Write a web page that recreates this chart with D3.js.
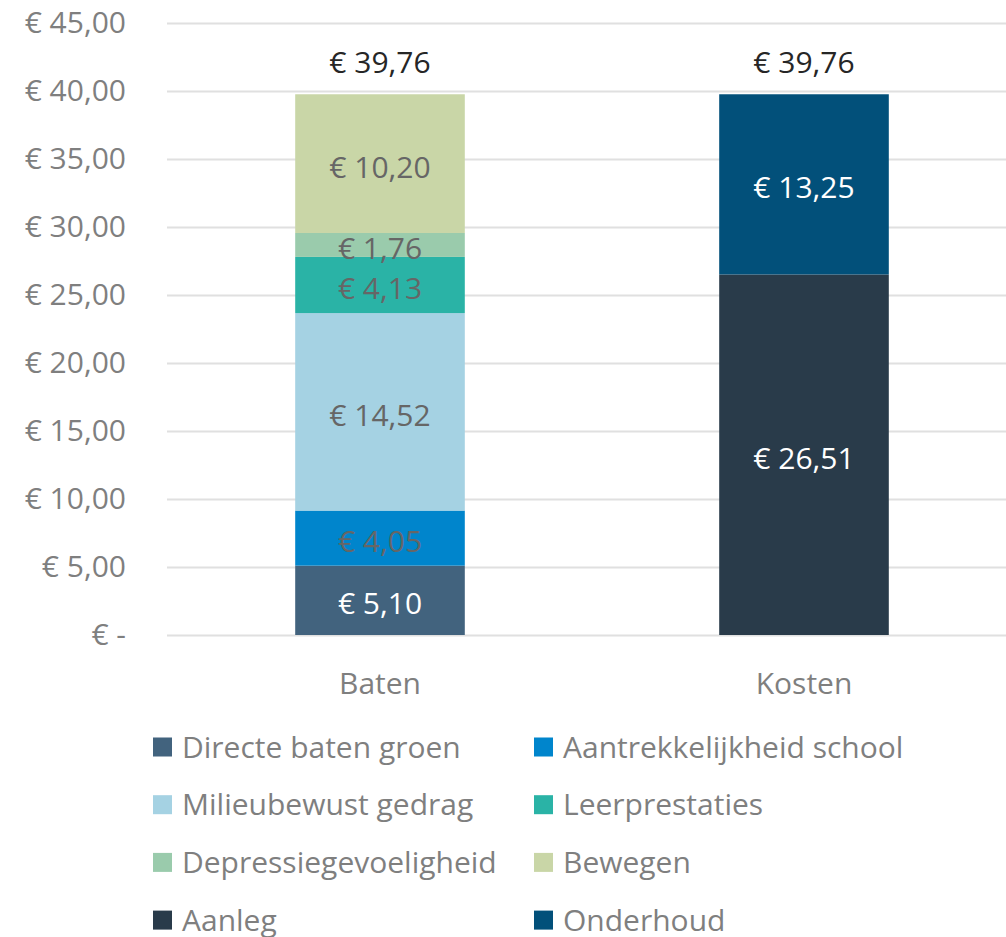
<!DOCTYPE html>
<html>
<head>
<meta charset="utf-8">
<script src="https://cdn.jsdelivr.net/npm/d3@7"></script>
<style>
  body { margin: 0; background: #fff; }
  svg { display: block; font-family: "Open Sans", "Noto Sans", sans-serif; }
</style>
</head>
<body>
<div id="chart"></div>
<script>
// categories and series
var categories = ["Baten", "Kosten"];
var seriesNames = ["Directe baten groen", "Aantrekkelijkheid school", "Milieubewust gedrag", "Leerprestaties",
                   "Depressiegevoeligheid", "Bewegen", "Aanleg", "Onderhoud"];
var seriesColors = ["#42637e", "#0085cc", "#a5d2e3", "#2ab3a6", "#9acbac", "#c9d6a7", "#293b4a", "#02507a"];
var labelColors = ["#ffffff", "#666666", "#666666", "#666666", "#666666", "#666666", "#ffffff", "#ffffff"];
// value per category, same order as categories
var baten = [5.10, 4.05, 14.52, 4.13, 1.76, 10.20, 0, 0];
var kosten = [0, 0, 0, 0, 0, 0, 26.51, 13.25];
var yTicks = [0, 5, 10, 15, 20, 25, 30, 35, 40, 45];

var width = 1006, height = 937;
var margin = {top: 23, left: 168, plotRight: 1016, bottom: 635};
var fontSize = "30px";

var nl = d3.formatLocale({decimal: ",", thousands: ".", grouping: [3], currency: ["€ ", ""]});
var fmt = function(v) { return v === 0 ? "€ -" : nl.format("$,.2f")(v); };

// build rows for d3.stack
var rows = categories.map(function(c, i) {
	var src = i === 0 ? baten : kosten;
	var r = {cat: c};
	seriesNames.forEach(function(s, j) { r[s] = src[j]; });
	return r;
});
var stacked = d3.stack().keys(seriesNames)(rows);

var svg = d3.select("#chart").append("svg")
	.attr("width", width)
	.attr("height", height);

var x = d3.scaleBand()
	.domain(categories)
	.range([margin.left, margin.plotRight])
	.paddingInner(0.6)
	.paddingOuter(0.3);

var y = d3.scaleLinear()
	.domain([0, 45])
	.range([margin.bottom, margin.top]);

// gridlines
svg.append("g")
	.selectAll("line")
	.data(yTicks)
	.enter().append("line")
	.attr("x1", margin.left - 1)
	.attr("x2", width)
	.attr("y1", function(d) { return Math.round(y(d)) + 0.5; })
	.attr("y2", function(d) { return Math.round(y(d)) + 0.5; })
	.attr("stroke", "#e0e0e0")
	.attr("stroke-width", 2);

// y axis labels
var yAxis = svg.append("g")
	.attr("transform", "translate(126,0)")
	.call(d3.axisLeft(y).tickValues(yTicks).tickFormat(fmt).tickSize(0).tickPadding(0));
yAxis.select(".domain").remove();
yAxis.selectAll("text")
	.attr("fill", "#7f7f7f")
	.style("font-size", fontSize)
	.style("font-family", "\"Open Sans\", sans-serif");

// bars
var layer = svg.selectAll(".layer")
	.data(stacked)
	.enter().append("g")
	.attr("class", "layer")
	.attr("fill", function(d, i) { return seriesColors[i]; });

layer.selectAll("rect")
	.data(function(d) { return d.filter(function(p) { return p[1] - p[0] > 0; }); })
	.enter().append("rect")
	.attr("x", function(d) { return x(d.data.cat); })
	.attr("width", x.bandwidth())
	.attr("y", function(d) { return y(d[1]); })
	.attr("height", function(d) { return y(d[0]) - y(d[1]); });

// segment labels
layer.each(function(s, i) {
	d3.select(this).selectAll("text")
		.data(s.filter(function(p) { return p[1] - p[0] > 0; }))
		.enter().append("text")
		.attr("x", function(d) { return x(d.data.cat) + x.bandwidth() / 2; })
		.attr("y", function(d) { return y((d[0] + d[1]) / 2); })
		.attr("dy", "0.47em")
		.attr("text-anchor", "middle")
		.attr("fill", labelColors[i])
		.style("font-size", fontSize)
		.text(function(d) { return fmt(d[1] - d[0]); });
});

// totals
svg.append("g")
	.selectAll("text")
	.data(rows)
	.enter().append("text")
	.attr("x", function(d) { return x(d.cat) + x.bandwidth() / 2; })
	.attr("y", function(d) { return y(d3.sum(seriesNames, function(s) { return d[s]; })) - 32; })
	.attr("dy", "0.35em")
	.attr("text-anchor", "middle")
	.attr("fill", "#262626")
	.style("font-size", fontSize)
	.text(function(d) { return fmt(d3.sum(seriesNames, function(s) { return d[s]; })); });

// category labels
svg.append("g")
	.selectAll("text")
	.data(categories)
	.enter().append("text")
	.attr("x", function(d) { return x(d) + x.bandwidth() / 2; })
	.attr("y", 683)
	.attr("dy", "0.35em")
	.attr("text-anchor", "middle")
	.attr("fill", "#7f7f7f")
	.style("font-size", fontSize)
	.text(function(d) { return d; });

// legend, two columns
var legend = svg.append("g")
	.selectAll("g")
	.data(seriesNames)
	.enter().append("g")
	.attr("transform", function(d, i) {
		return "translate(" + (i % 2 === 0 ? 153 : 534) + "," + (747 + Math.floor(i / 2) * 57.7) + ")";
	});
legend.append("rect")
	.attr("x", 0)
	.attr("y", -9.5)
	.attr("width", 19)
	.attr("height", 19)
	.attr("fill", function(d, i) { return seriesColors[i]; });
legend.append("text")
	.attr("x", 29)
	.attr("dy", "0.35em")
	.attr("fill", "#7f7f7f")
	.style("font-size", fontSize)
	.text(function(d) { return d; });
</script>
</body>
</html>
